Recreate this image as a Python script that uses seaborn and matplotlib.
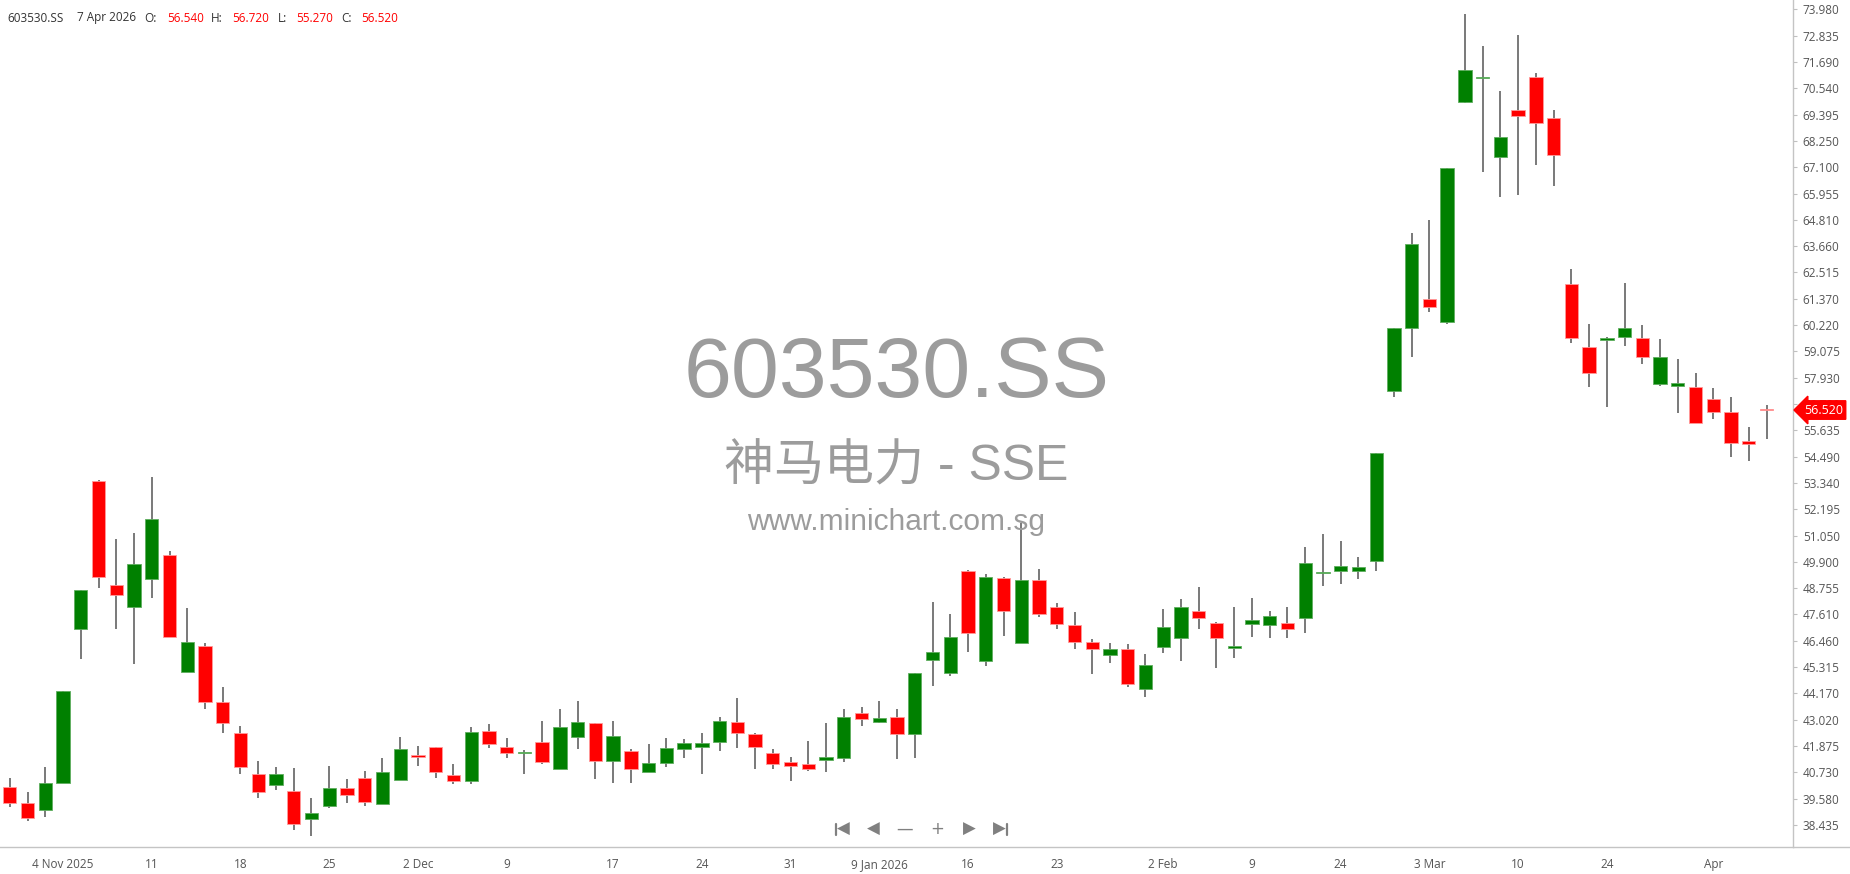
#!/usr/bin/env python3

import seaborn as sns
import matplotlib.pyplot as plt
import matplotlib.transforms as mtransforms
from matplotlib.lines import Line2D
import pandas as pd
import numpy as np

# daily OHLC, 603530.SS, 30 Oct 2025 .. 7 Apr 2026
opens = [40.08, 39.38, 39.09, 40.28, 46.96, 53.43, 48.91, 47.95, 49.14, 50.22,
         45.12, 46.23, 43.78, 42.43, 40.64, 40.16, 39.93, 38.68, 39.28, 40.03,
         40.47, 39.33, 40.38, 41.46, 41.82, 40.63, 40.37, 42.55, 41.82, 41.56,
         42.04, 40.86, 42.28, 42.86, 41.24, 41.67, 40.76, 41.12, 41.73, 41.85,
         42.05, 42.92, 42.39, 41.56, 41.16, 41.08, 41.25, 41.34, 43.30, 42.92,
         43.13, 42.39, 45.61, 45.04, 49.50, 45.60, 49.18, 46.35, 49.11, 47.92,
         47.16, 46.41, 45.83, 46.12, 44.36, 46.21, 46.57, 47.78, 47.22, 46.15,
         47.18, 47.14, 47.22, 47.44, 49.40, 49.52, 49.52, 49.95, 57.36, 60.08,
         61.37, 60.36, 69.94, 70.99, 67.55, 69.60, 71.02, 69.23, 62.00, 59.25,
         59.58, 59.70, 59.64, 57.64, 57.58, 57.52, 57.02, 56.42, 55.17, 56.54]
highs = [40.47, 39.89, 40.95, 44.29, 48.68, 53.47, 50.88, 51.15, 53.59, 50.38,
         47.88, 46.35, 44.43, 42.75, 41.24, 40.95, 40.90, 39.60, 41.02, 40.42,
         40.80, 41.34, 42.28, 41.89, 41.85, 41.08, 42.72, 42.82, 42.21, 41.70,
         42.97, 43.47, 43.84, 42.89, 42.97, 41.73, 41.95, 42.21, 42.18, 42.43,
         43.16, 43.95, 42.43, 41.73, 41.38, 42.11, 42.86, 43.47, 43.56, 43.84,
         43.47, 45.04, 48.14, 47.62, 49.55, 49.37, 49.23, 51.58, 49.58, 48.09,
         47.70, 46.52, 46.35, 46.31, 45.87, 47.83, 48.27, 48.82, 47.27, 47.95,
         48.31, 47.78, 47.92, 50.55, 51.10, 50.81, 50.11, 54.63, 60.08, 64.22,
         64.80, 67.08, 73.78, 72.37, 70.41, 72.86, 71.19, 69.60, 62.65, 60.25,
         59.69, 62.04, 60.24, 59.60, 58.73, 58.12, 57.47, 57.09, 55.77, 56.72]
lows = [39.23, 38.62, 38.80, 40.28, 45.65, 48.75, 46.96, 45.44, 48.31, 46.64,
        45.12, 43.47, 42.46, 40.66, 39.62, 39.96, 38.22, 37.97, 39.16, 39.38,
        39.26, 39.33, 40.38, 41.02, 40.47, 40.21, 40.21, 41.77, 41.34, 40.64,
        41.08, 40.86, 41.73, 40.42, 40.28, 40.25, 40.76, 40.98, 41.34, 40.64,
        41.67, 41.78, 40.86, 40.86, 40.37, 40.80, 40.76, 41.19, 42.76, 42.86,
        41.31, 41.34, 44.51, 44.94, 45.97, 45.38, 46.69, 46.35, 47.51, 46.96,
        46.09, 45.00, 45.48, 44.46, 44.03, 45.92, 45.60, 46.96, 45.26, 45.70,
        46.64, 46.57, 46.57, 46.79, 48.87, 48.92, 49.14, 49.52, 57.10, 58.85,
        60.79, 60.27, 69.89, 66.89, 65.79, 65.91, 67.21, 66.28, 59.43, 57.52,
        56.67, 59.32, 58.51, 57.58, 56.38, 55.95, 56.11, 54.47, 54.31, 55.27]
closes = [39.38, 38.72, 40.25, 44.29, 48.68, 49.26, 48.44, 49.82, 51.78, 46.64,
          46.39, 43.81, 42.86, 40.98, 39.89, 40.64, 38.48, 38.94, 40.03, 39.73,
          39.44, 40.74, 41.73, 41.41, 40.76, 40.37, 42.47, 41.96, 41.56, 41.62,
          41.19, 42.69, 42.91, 41.24, 42.33, 40.86, 41.12, 41.78, 41.99, 41.99,
          42.98, 42.43, 41.83, 41.08, 41.02, 40.86, 41.40, 43.13, 43.04, 43.08,
          42.39, 45.04, 45.97, 46.61, 46.80, 49.23, 47.78, 49.11, 47.62, 47.19,
          46.42, 46.10, 46.10, 44.56, 45.41, 47.05, 47.92, 47.44, 46.57, 46.24,
          47.38, 47.54, 46.96, 49.84, 49.46, 49.74, 49.66, 54.63, 60.08, 63.77,
          61.02, 67.08, 71.34, 71.05, 68.40, 69.33, 69.01, 67.65, 59.64, 58.12,
          59.64, 60.08, 58.83, 58.82, 57.71, 55.95, 56.43, 55.08, 55.04, 56.52]

date_tick_pos = [3, 8, 13, 18, 23, 28, 34, 39, 44, 49, 54, 59, 65, 70, 75, 80, 85, 90, 96]
date_tick_labels = ["4 Nov 2025", "11", "18", "25", "2 Dec", "9", "17", "24", "31",
                    "9 Jan 2026", "16", "23", "2 Feb", "9", "24", "3 Mar", "10", "24", "Apr"]

price_ticks = [73.980, 72.835, 71.690, 70.540, 69.395, 68.250, 67.100, 65.955,
               64.810, 63.660, 62.515, 61.370, 60.220, 59.075, 57.930, 56.780,
               55.635, 54.490, 53.340, 52.195, 51.050, 49.900, 48.755, 47.610,
               46.460, 45.315, 44.170, 43.020, 41.875, 40.730, 39.580, 38.435]

header_label = ["603530.SS", "7 Apr 2026", "O:", "H:", "L:", "C:"]
header_values = ["56.540", "56.720", "55.270", "56.520"]
last_price = 56.520


def plot_candles(data, pngfilename):

    sns.set_theme(style="white")
    plt.rcParams['font.family'] = ['Open Sans', 'DejaVu Sans']

    W, H = 1850, 874
    fig = plt.figure(figsize=(W / 100, H / 100), dpi=100)
    ax_right = 1793
    ax_bottom = 847
    ax = fig.add_axes([0, 1 - ax_bottom / H, ax_right / W, ax_bottom / H])

    green = "#008000"
    red = "#ff0000"
    up = data["close"] >= data["open"]

    # wicks
    ax.vlines(data.index, data["low"], data["high"], color="#6e6e6e", lw=1.3, zorder=1)

    # bodies
    body_lo = np.minimum(data["open"], data["close"])
    body_h = np.maximum((data["close"] - data["open"]).abs(), 0.06)
    ax.bar(data.index[up], body_h[up], bottom=body_lo[up], width=0.75,
           color=green, edgecolor="#5fae5f", linewidth=0.6, zorder=2)
    ax.bar(data.index[~up], body_h[~up], bottom=body_lo[~up], width=0.75,
           color=red, edgecolor="#ff9a9a", linewidth=0.6, zorder=2)

    ax.set_xlim(-0.552, 100.49)
    ax.set_ylim(37.475, 74.39)

    # axes styling
    sns.despine(ax=ax, left=True, top=True, right=False, bottom=False)
    for s in ["right", "bottom"]:
        ax.spines[s].set_color("#c4c4c4")
        ax.spines[s].set_linewidth(1.0)
    fig.add_artist(Line2D([ax_right / W, 1], [1 - ax_bottom / H] * 2,
                          transform=fig.transFigure, color="#c4c4c4", lw=1.0))

    ax.yaxis.tick_right()
    ax.set_yticks(price_ticks)
    ax.set_yticklabels(["%.3f" % v for v in price_ticks])
    ax.tick_params(axis="y", length=3, width=0.8, color="#c0c0c0",
                   labelcolor="#555555", labelsize=8.5, pad=4)

    ax.set_xticks(date_tick_pos)
    ax.set_xticklabels(date_tick_labels)
    ax.tick_params(axis="x", length=5, width=0.8, color="#cccccc",
                   labelcolor="#555555", labelsize=8.5, pad=3)
    ax.grid(False)

    # watermark
    cx = 896.5 / W
    fig.text(cx, 1 - 397 / H, "603530.SS", ha="center", va="baseline",
             fontsize=62, color="#9c9c9c", family=["Liberation Sans", "Noto Sans CJK SC"], zorder=0)
    fig.text(cx, 1 - 480 / H, "神马电力 - SSE", ha="center", va="baseline",
             fontsize=36, color="#9c9c9c", family=["Liberation Sans", "Noto Sans CJK SC"], zorder=0)
    fig.text(cx, 1 - 530 / H, "www.minichart.com.sg", ha="center", va="baseline",
             fontsize=21.5, color="#9c9c9c", family=["Liberation Sans", "DejaVu Sans"], zorder=0)

    # header line
    hy = 1 - 18 / H
    label_x = [7, 77, 144, 211, 278, 341]
    value_x = [167, 232, 296, 361]
    for t, x in zip(header_label, label_x):
        fig.text(x / W, hy, t, ha="left", va="center", fontsize=8.5, color="#333333")
    for t, x in zip(header_values, value_x):
        fig.text(x / W, hy, t, ha="left", va="center", fontsize=8.5, color=red)

    # navigation buttons (first/last have no glyph in any installed font:
    # drawn as bar + triangle)
    nav_y = 1 - 829 / H
    nav_col = "#808080"
    nav = ["◀", "◀", "—", "+", "▶", "▶"]
    nav_x = [843, 873, 905, 937, 969, 999]
    for t, x in zip(nav, nav_x):
        fig.text(x / W, nav_y, t, ha="center", va="center",
                 fontsize=12, color=nav_col, family=["DejaVu Sans"])
    for bx in [835.5, 1006.5]:
        fig.add_artist(Line2D([bx / W] * 2, [1 - 823.5 / H, 1 - 834.5 / H],
                              transform=fig.transFigure, color=nav_col, lw=1.6))

    # last price marker
    trans = mtransforms.blended_transform_factory(ax.transAxes, ax.transData)
    ax.text(1 + 11 / ax_right, last_price, "%.3f" % last_price, transform=trans,
            ha="left", va="center", fontsize=9, color="white", clip_on=False, zorder=10,
            bbox=dict(boxstyle="larrow,pad=0.22", fc=red, ec=red))

    plt.savefig(pngfilename, dpi=100)


if __name__ == '__main__':

    data = pd.DataFrame({"open": opens, "high": highs, "low": lows, "close": closes})
    plot_candles(data, "out.png")
